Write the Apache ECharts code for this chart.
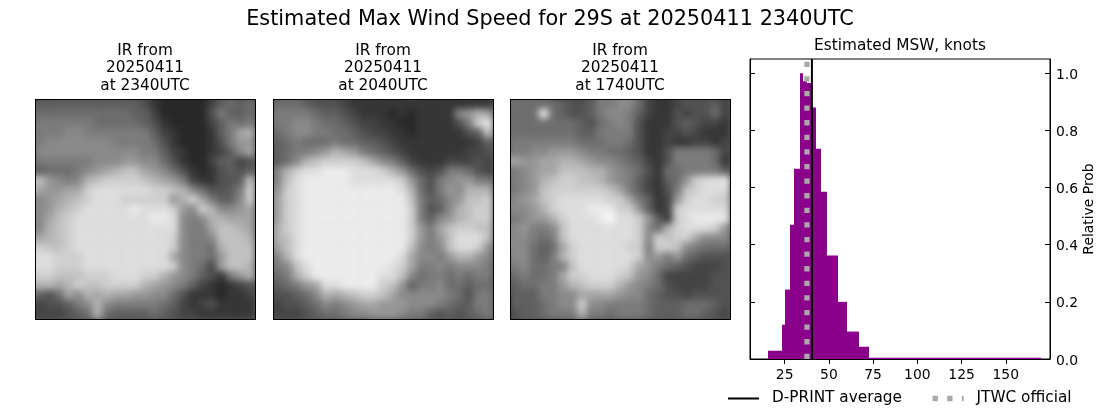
<!DOCTYPE html>
<html>
<head>
<meta charset="utf-8">
<title>Estimated Max Wind Speed</title>
<script src="https://cdn.jsdelivr.net/npm/echarts@6/dist/echarts.min.js"></script>
<style>
  html, body { margin: 0; padding: 0; background: #fff; }
  #main { position: absolute; left: 0; top: 0; width: 1100px; height: 409px; }
  .ir { position: absolute; top: 99px; width: 221px; height: 221px; box-sizing: border-box;
        border: 1px solid #000; overflow: hidden; background: #555; }
  .ir div { position: absolute; left: -5px; top: -5px; width: 229px; height: 229px; filter: blur(2.5px); }
</style>
</head>
<body>
<div id="main"></div>
<div class="ir" style="left:35px"><div id="ir_1"></div></div>
<div class="ir" style="left:273px"><div id="ir_2"></div></div>
<div class="ir" style="left:510px"><div id="ir_3"></div></div>
<script>
// 图片的灰度值，每个字符一格 (0 最暗, f 最亮)，从上到下
var ir2340 = [
  '223333 333333 210000 013433',
  '344444 444444 310000 024545',
  '455555 555554 420000 036445',
  '566666 655555 431000 024656',
  '566677 666666 642100 01469a',
  '667777 777666 653100 013688',
  '577777 777777 664210 012479',
  '466666 677788 775310 024423',
  '445556 789abb 987531 013434',
  'bb8767 abcccc ba9862 11334b',
  'a98899 cddddd dccba7 53346c',
  '7789ab cdddcc ccc8ac 96447c',
  '778abc ddddde dddc87 ca7789',
  '779bcd dddddd deed76 7aa999',
  '67abcd dddddd dddd76 69bba9',
  '89abcd dddddd dddc76 67bbba',
  'ccbbcd dddddd dddc76 65abbb',
  'dddccc dddddd ddd976 658bbb',
  'dddccc dddddd dddc76 529bba',
  'cccbbb cccddd cca876 43168a',
  'aaa9ac bbcccc a98764 210123',
  '543597 a9a998 877531 110112',
  '323346 7a7666 665421 231111',
  '222234 5a5444 454322 111111'
];
var ir2040 = [
  '344433 322111 111211 111111',
  '455543 332111 111111 111111',
  '566665 443211 101011 1178a9',
  '466776 554322 110011 1136ce',
  '456776 655432 211011 11134b',
  '445655 565544 321111 111124',
  '345667 8a9865 432111 111223',
  '3457ab ccccb9 764211 122232',
  '47acdd eeeddd ca8532 366532',
  '47bdee eeeddd ddc853 678866',
  '68cdee eeeeee eeda53 687aaa',
  '69cdee eeeeee eeeb64 578bbc',
  '59cdee eeeeee eeec63 47abcc',
  '59cdee eeeeee eeec64 78abcc',
  '6acdee eeeeee eeec86 9bccbb',
  '6abdee eeeeee eeec86 8bdddb',
  '69bdee eeeeee eeeb76 7bddc8',
  '57adee eeeeee eed977 68aa87',
  '567bde eeeeee edc966 767776',
  '456ace eeeeee ddb756 656566',
  '345689 ddeeee cb8466 755455',
  '233457 a9abcc b97777 765366',
  '223345 767899 888777 654466',
  '222234 556778 887664 343456'
];
var ir1740 = [
  '555543 222366 775211 333322',
  '555555 433466 775211 233342',
  '5555e5 433467 764211 323352',
  '555555 554356 763111 343221',
  '555555 554466 663112 232111',
  '566666 665556 653112 112212',
  '566778 887665 543113 666652',
  '998899 aa9877 654213 666651',
  '667899 bbbaa8 765315 566664',
  '6678ab ccbba8 764214 58cdde',
  '5678bc cccccb 964213 6bcddd',
  '6789bc dddddc c96412 8cddcc',
  '7778ac dddeee cc8412 cddddd',
  '56788a cdddef ddc841 cdeeee',
  '778667 bddddd ddc75a cdddc8',
  '777656 bddddd ddc7cb cc9777',
  '777545 9cdddd dcc6cc b76555',
  '677546 acdddd ddc786 854333',
  '667556 6bdddd dc9865 432223',
  '456556 9ccddd cb8752 222233',
  '345566 8abccc a87653 222233',
  '244466 779999 877543 323333',
  '244456 77c776 666544 455543',
  '134456 66a665 666544 455432'
];

// 直方图的数据
var binEdges = [15.4, 23.3, 25, 27.8, 30.1, 33.5, 35.2, 37.4, 39.7, 42.5, 45.4, 48.8, 55, 60.1, 66.9, 72.5, 169.8];
var binProb = [0.029, 0.12, 0.243, 0.47, 0.666, 1.0, 0.972, 0.966, 0.88, 0.736, 0.585, 0.362, 0.2, 0.096, 0.043, 0.004];
var dprintAverage = 40.4;
var jtwcOfficial = 37.6;
var xTicks = [25, 50, 75, 100, 125, 150];
var yTicks = [0, 0.2, 0.4, 0.6, 0.8, 1.0];

var font = 'DejaVu Sans';

// 卫星云图
function drawIr(id, rows) {
  var chart = echarts.init(document.getElementById(id), null, { renderer: 'canvas' });
  var cells = [];
  var index = [];
  rows.forEach(function (row, y) {
    var digits = row.replace(/ /g, '');
    index.push(y);
    for (var x = 0; x < digits.length; x++) {
      cells.push([x, rows.length - 1 - y, parseInt(digits.charAt(x), 16)]);
    }
  });
  chart.setOption({
    animation: false,
    grid: { left: 0, right: 0, top: 0, bottom: 0 },
    xAxis: { type: 'category', data: index, show: false },
    yAxis: { type: 'category', data: index, show: false },
    visualMap: { show: false, min: 0, max: 15, inRange: { color: ['#282828', '#fafafa'] } },
    series: [{ type: 'heatmap', data: cells, progressive: 0 }]
  });
}
drawIr('ir_1', ir2340);
drawIr('ir_2', ir2040);
drawIr('ir_3', ir1740);

// 右侧的直方图
var bins = binProb.map(function (p, i) {
  return [binEdges[i], binEdges[i + 1], p];
});

var main = echarts.init(document.getElementById('main'));
var option = {
  animation: false,
  textStyle: { fontFamily: font },
  title: [
    { text: 'Estimated Max Wind Speed for 29S at 20250411 2340UTC', left: 545, top: 4, textAlign: 'center',
      textStyle: { fontFamily: font, fontSize: 20.8, fontWeight: 'normal', color: '#000' } },
    { text: 'IR from\n20250411\nat 2340UTC', left: 140, top: 37, textAlign: 'center',
      textStyle: { fontFamily: font, fontSize: 15.3, lineHeight: 17.5, fontWeight: 'normal', color: '#000' } },
    { text: 'IR from\n20250411\nat 2040UTC', left: 378, top: 37, textAlign: 'center',
      textStyle: { fontFamily: font, fontSize: 15.3, lineHeight: 17.5, fontWeight: 'normal', color: '#000' } },
    { text: 'IR from\n20250411\nat 1740UTC', left: 615, top: 37, textAlign: 'center',
      textStyle: { fontFamily: font, fontSize: 15.3, lineHeight: 17.5, fontWeight: 'normal', color: '#000' } },
    { text: 'Estimated MSW, knots', left: 895, top: 34, textAlign: 'center',
      textStyle: { fontFamily: font, fontSize: 15.3, fontWeight: 'normal', color: '#000' } }
  ],
  legend: {
    left: 722, top: 386, itemWidth: 31, itemHeight: 14, itemGap: 28,
    itemStyle: { color: 'rgba(0,0,0,0)', borderWidth: 0 },
    textStyle: { fontFamily: font, fontSize: 15.3, color: '#000', padding: [0, 0, 0, 8] },
    data: [
      { name: 'D-PRINT average', lineStyle: { width: 2 } },
      { name: 'JTWC official', lineStyle: { width: 5.3 } }
    ]
  },
  grid: { left: 750, top: 59, width: 300, height: 300, show: true, borderColor: '#000', borderWidth: 1 },
  xAxis: {
    type: 'value', min: 5.4, max: 175,
    axisLine: { show: true, lineStyle: { color: '#000', width: 1 } },
    axisTick: { show: true, length: 5, customValues: xTicks, lineStyle: { color: '#000', width: 1 } },
    axisLabel: { customValues: xTicks, color: '#000', fontSize: 13.9, margin: 9 },
    splitLine: { show: false }
  },
  yAxis: [
    {
      type: 'value', position: 'right', min: 0, max: 1.05,
      name: 'Relative Prob', nameLocation: 'middle', nameRotate: 90, nameGap: 32,
      nameTextStyle: { color: '#000', fontSize: 13.9, fontFamily: font },
      axisLine: { show: true, onZero: false, lineStyle: { color: '#000', width: 1 } },
      axisTick: { show: true, inside: true, length: 5, customValues: yTicks, lineStyle: { color: '#000', width: 1 } },
      axisLabel: { customValues: yTicks, color: '#000', fontSize: 13.9, margin: 6, verticalAlign: 'top', lineHeight: 4,
        formatter: function (v) { return v.toFixed(1); } },
      splitLine: { show: false }
    },
    {
      type: 'value', position: 'left', min: 0, max: 1.05,
      axisLine: { show: true, onZero: false, lineStyle: { color: '#000', width: 1 } },
      axisTick: { show: true, inside: true, length: 5, customValues: yTicks, lineStyle: { color: '#000', width: 1 } },
      axisLabel: { show: false },
      splitLine: { show: false }
    }
  ],
  series: [
    {
      name: 'Prob',
      type: 'custom',
      data: bins,
      encode: { x: [0, 1], y: 2 },
      renderItem: function (params, api) {
        var a = api.coord([api.value(0), api.value(2)]);
        var b = api.coord([api.value(1), 0]);
        var x0 = Math.round(a[0]), x1 = Math.round(b[0]);
        return {
          type: 'rect',
          shape: { x: x0, y: a[1], width: x1 - x0, height: b[1] - a[1] },
          style: { fill: '#8b008b' }
        };
      }
    },
    {
      name: 'D-PRINT average',
      type: 'line',
      symbol: 'none',
      z: 5,
      data: [[dprintAverage, 0], [dprintAverage, 1.05]],
      lineStyle: { color: '#000', width: 2 },
      itemStyle: { color: '#000' }
    },
    {
      name: 'JTWC official',
      type: 'line',
      symbol: 'none',
      z: 4,
      data: [[jtwcOfficial, 0], [jtwcOfficial, 1.05]],
      lineStyle: { color: '#a9a9a9', width: 5.3, type: [5.3, 9.3], cap: 'butt' },
      itemStyle: { color: '#a9a9a9' }
    }
  ]
};
main.setOption(option);
</script>
</body>
</html>
